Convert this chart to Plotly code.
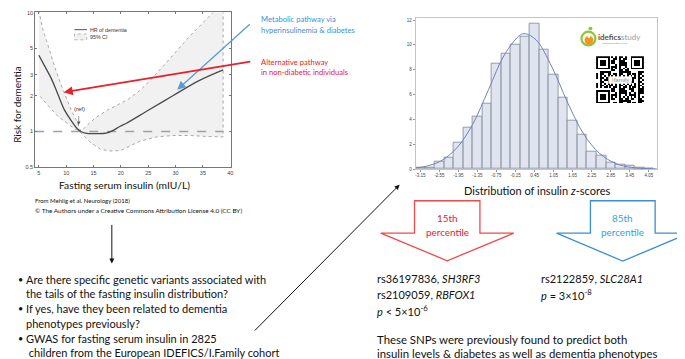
import base64
import plotly.graph_objects as go

# ---------------- data ----------------
# Left panel: hazard ratio of dementia vs fasting serum insulin
hr_x = [5, 6, 7.27, 8.5, 9.68, 11, 12.08, 12.7, 13.5, 15.1, 17.5, 19.9, 21.1, 24.7, 29.5, 34.3, 38.7]
hr_y = [4.38, 3.6, 2.8, 2.05, 1.52, 1.22, 1.05, 1.0, 0.97, 0.96, 0.975, 1.107, 1.18, 1.48, 2.0, 2.68, 3.3]

ci_upper_x = [5, 5.7, 6.4, 7.3, 8.2, 9.1, 10.0, 10.9, 11.8, 12.7, 14.0, 15.5, 17.6, 19.5, 21.2,
              23.6, 25.4, 27.9, 30.3, 32.7, 35.1, 36.9, 38.7]
ci_upper_y = [10.5, 7.31, 5.84, 4.24, 3.18, 2.46, 1.91, 1.52, 1.26, 1.0, 1.15, 1.32, 1.52, 1.68, 1.85,
              2.24, 2.71, 3.62, 4.83, 6.43, 8.3, 10.1, 13.0]
ci_lower_x = [5, 6.7, 8.5, 10.9, 12.7, 14.5, 16.3, 18.1, 19.9, 23.5, 26.5, 29.5, 32.5, 35.5, 38.7]
ci_lower_y = [2.03, 1.65, 1.34, 1.107, 0.975, 0.805, 0.708, 0.686, 0.69, 0.83, 0.9, 0.926, 0.926, 0.91, 0.9]

ref_x = [4.33, 38.7]
ref_y = [1, 1]

left_xticks = [5, 10, 15, 20, 25, 30, 35, 40]
left_yticks = [0.5, 1, 2, 3, 5, 10]
left_yticktext = ["0.5", "1", "2", "3", "5", "10"]

# Right panel: distribution of insulin z-scores (percent per bin)
bin_centers = [-3.15, -2.85, -2.55, -2.25, -1.95, -1.65, -1.35, -1.05, -0.75, -0.45, -0.15, 0.15,
               0.45, 0.75, 1.05, 1.35, 1.65, 1.95, 2.25, 2.55, 2.85, 3.15, 3.45, 3.75, 4.05]
bin_pct = [0.1, 0.15, 0.58, 0.9, 2.1, 3.36, 4.23, 5.26, 8.47, 9.31, 10.0, 10.69,
           11.7, 9.63, 7.57, 5.74, 3.92, 2.8, 1.38, 1.06, 0.53, 0.37, 0.3, 0.1, 0.06]
curve_x = [-3.3, -3.0, -2.5, -2.0, -1.5, -1.0, -0.5, 0.0, 0.16, 0.5, 1.0, 1.5, 2.0, 2.5, 3.0, 3.5, 4.0, 4.3]
curve_y = [0.09, 0.2, 0.65, 1.7, 3.6, 6.4, 9.2, 10.8, 10.9, 10.4, 8.2, 5.3, 2.8, 1.25, 0.45, 0.13, 0.03, 0.01]
hist_xtick_vals = [-3.15, -2.55, -1.95, -1.35, -0.75, -0.15, 0.45, 1.05, 1.65, 2.25, 2.85, 3.45, 4.05]
hist_xtick_text = ["-3.15", "-2.55", "-1.95", "-1.35", "-0.75", "-0.15", "0.45", "1.05", "1.65",
                   "2.25", "2.85", "3.45", "4.05"]
hist_yticks = [0, 2, 4, 6, 8, 10, 12]

# ---------------- layout helpers ----------------
W, H = 685, 359
FONT = "Lato"


def px(x):
    return x / W


def py(y):
    return 1 - y / H


def path(points):
    return "M " + " L ".join(f"{px(x):.5f},{py(y):.5f}" for x, y in points) + " Z"


fig = go.Figure()

band_x = ci_upper_x + ci_lower_x[::-1]
band_y = ci_upper_y + ci_lower_y[::-1]
fig.add_trace(go.Scatter(x=band_x, y=band_y, mode="lines", fill="toself",
                         fillcolor="#f1f1f1", line=dict(color="#a8a8a8", width=1, dash="dot"),
                         xaxis="x", yaxis="y", hoverinfo="skip", showlegend=False))
fig.add_trace(go.Scatter(x=ref_x, y=ref_y, mode="lines",
                         line=dict(color="#a0a0a0", width=1.6, dash="dash"),
                         xaxis="x", yaxis="y", showlegend=False))
fig.add_trace(go.Scatter(x=hr_x, y=hr_y, mode="lines", line=dict(color="#4a4a4a", width=1.3, shape="spline"),
                         xaxis="x", yaxis="y", showlegend=False))

fig.add_trace(go.Bar(x=bin_centers, y=bin_pct, width=0.3,
                     marker=dict(color="#dfe4ee", line=dict(color="#7d8595", width=0.8)),
                     xaxis="x2", yaxis="y2", showlegend=False))
fig.add_trace(go.Scatter(x=curve_x, y=curve_y, mode="lines",
                         line=dict(color="#7083b8", width=1, shape="spline"),
                         xaxis="x2", yaxis="y2", showlegend=False))

axis_font = dict(family="Liberation Sans", size=5.5, color="#444")
hist_font = dict(family="Liberation Sans", size=4.5, color="#444")
fig.update_layout(
    width=W, height=H, autosize=False,
    margin=dict(l=0, r=0, t=0, b=0, pad=0),
    paper_bgcolor="white", plot_bgcolor="white",
    font=dict(family=FONT),
    bargap=0,
    xaxis=dict(domain=[px(27.3), px(223.5)], range=[4.33, 40.05], tickvals=left_xticks,
               showgrid=False, zeroline=False, showline=True, linecolor="#777", linewidth=0.8,
               mirror="ticks", ticks="inside", ticklen=2, tickcolor="#777",
               tickfont=axis_font, anchor="y", ticklabeloverflow="allow"),
    yaxis=dict(domain=[py(159), py(1.5)], type="log", range=[-0.3015, 1.002], tickvals=left_yticks,
               ticktext=left_yticktext,
               showgrid=False, zeroline=False, showline=True, linecolor="#777", linewidth=0.8,
               mirror="ticks", ticks="inside", ticklen=2, tickcolor="#777",
               tickfont=axis_font, anchor="x", ticklabeloverflow="allow"),
    xaxis2=dict(domain=[px(409.3), px(651.7)], range=[-3.3, 4.3], tickvals=hist_xtick_vals,
                ticktext=hist_xtick_text, showgrid=False, zeroline=False, showline=True,
                linecolor="#c4c4c4", linewidth=0.8, mirror=True, ticks="outside", ticklen=2,
                tickcolor="#999", tickfont=hist_font, anchor="y2", ticklabeloverflow="allow"),
    yaxis2=dict(domain=[py(160.7), py(6.7)], range=[0, 12.2], tickvals=hist_yticks,
                showgrid=False, zeroline=False, showline=True, linecolor="#c4c4c4", linewidth=0.8,
                mirror=True, ticks="outside", ticklen=2, tickcolor="#999",
                tickfont=hist_font, anchor="x2", ticklabeloverflow="allow"),
)

ann = []
shapes = []


def text(x, y, s, size, color="#111", anchor="left", angle=0, family=FONT):
    ann.append(dict(x=px(x), y=py(y), xref="paper", yref="paper", text=s, showarrow=False,
                    xanchor=anchor, yanchor="middle", textangle=angle,
                    font=dict(family=family, size=size, color=color)))


def arrow(x0, y0, x1, y1, color, width, head=2, size=1.0):
    ann.append(dict(x=px(x1), y=py(y1), xref="paper", yref="paper", ax=x0 - x1, ay=y0 - y1,
                    text="", showarrow=True, arrowhead=head,
                    arrowsize=size, arrowwidth=width, arrowcolor=color))


# Left panel texts
text(9.5, 95, "Risk for dementia", 10, "#111", anchor="center", angle=-90)
text(117, 177.3, "Fasting serum insulin (mIU/L)", 10.3, "#111", anchor="center")
text(25, 192.7, "From Mehlig et al. Neurology (2018)", 6, "#111")
text(25, 203.3, "© The Authors under a Creative Commons Attribution License 4.0 (CC BY)", 6.4, "#111")
text(71.7, 100, "(ref)", 6, "#333", anchor="center", family="Liberation Sans")
arrow(71, 105.5, 71, 116, "#555", 0.6, head=2, size=1.2)

# legend inside left panel
shapes.append(dict(type="line", xref="paper", yref="paper", x0=px(66.7), x1=px(79.3), y0=py(19), y1=py(19),
                   line=dict(color="#555", width=1)))
shapes.append(dict(type="rect", xref="paper", yref="paper", x0=px(66.7), x1=px(79), y0=py(29.3), y1=py(23.3),
                   fillcolor="#f1f1f1", line=dict(color="#999", width=0.7, dash="dot")))
text(80.7, 19, "HR of dementia", 5.3, "#333", family="Liberation Sans")
text(80.7, 26.3, "95% CI", 5.3, "#333", family="Liberation Sans")

# pathway arrows and labels
arrow(244, 13.3, 170, 80, "#5b9bd5", 1.3, head=2, size=1.3)
arrow(244, 51.7, 56, 82.7, "#e8202a", 1.8, head=2, size=1.0)
text(252, 8.3, "Metabolic pathway via", 7.6, "#3b8fd4")
text(252, 19.3, "hyperinsulinemia &amp; diabetes", 7.6, "#3b8fd4")
text(252, 51.8, "Alternative pathway", 7.6, "#e8202a")
text(252, 62.3, "in non-diabetic individuals", 7.6, "#e8202a")

# down arrow and bullet list
arrow(104.3, 216.7, 104.3, 256.7, "#111", 1.0, head=2, size=1.0)
bullets = [
    (272.7, True, "Are there specific genetic variants associated with"),
    (287.7, False, "the tails of the fasting insulin distribution?"),
    (302.2, True, "If yes, have they been related to dementia"),
    (317.7, False, "phenotypes previously?"),
    (332.7, True, "GWAS for fasting serum insulin in 2825"),
    (347.8, False, " children from the European IDEFICS/I.Family cohort"),
]
for y, b, s in bullets:
    if b:
        text(8.5, y, "•", 9, "#111")
    text(15.7, y, s, 11, "#111")

# diagonal arrow to histogram
arrow(247, 324, 393.3, 176.7, "#111", 1.0, head=2, size=1.0)

# histogram caption
text(531, 182.7, "Distribution of insulin <i>z</i>-scores", 11, "#111", anchor="center")

# block arrows
shapes.append(dict(type="path", xref="paper", yref="paper",
                   path=path([(408.3, 193), (474, 193), (474, 226), (508, 226), (441.2, 254),
                              (374.4, 226), (408.3, 226)]),
                   fillcolor="white", line=dict(color="#ec4a4d", width=1.3)))
shapes.append(dict(type="path", xref="paper", yref="paper",
                   path=path([(585, 193), (650, 193), (650, 226), (684, 226), (617.5, 254.3),
                              (551, 226), (585, 226)]),
                   fillcolor="white", line=dict(color="#3b8fd0", width=1.3)))
text(441.2, 210.7, "15th", 9.9, "#e8202a", anchor="center")
text(441.2, 224.3, "percentile", 9.9, "#e8202a", anchor="center")
text(617.5, 210.7, "85th", 9.9, "#2aa6e0", anchor="center")
text(617.5, 224.3, "percentile", 9.9, "#2aa6e0", anchor="center")

# SNP results
text(368.3, 271.7, "rs36197836, <i>SH3RF3</i>", 11, "#111")
text(368.3, 288.3, "rs2109059, <i>RBFOX1</i>", 11, "#111")
text(368.3, 305, "<i>p</i> &lt; 5×10<sup>-6</sup>", 11, "#111")
text(533.3, 271.7, "rs2122859, <i>SLC28A1</i>", 11, "#111")
text(533.3, 288.3, "<i>p</i> = 3×10<sup>-8</sup>", 11, "#111")
text(368.3, 334.5, "These SNPs were previously found to predict both", 11.4, "#111")
text(368.3, 348.0, "insulin levels &amp; diabetes as well as dementia phenotypes", 11.4, "#111")

# IDEFICS logo (approximation)
shapes.append(dict(type="circle", xref="paper", yref="paper", x0=px(576), x1=px(590), y0=py(35), y1=py(21),
                   fillcolor="white", line=dict(color="#8cc63f", width=2.2)))
shapes.append(dict(type="circle", xref="paper", yref="paper", x0=px(579), x1=px(588), y0=py(34), y1=py(25),
                   fillcolor="#f7941d", line=dict(color="#f7941d", width=0)))
shapes.append(dict(type="circle", xref="paper", yref="paper", x0=px(582), x1=px(585), y0=py(27.5), y1=py(24.5),
                   fillcolor="white", line=dict(width=0)))
shapes.append(dict(type="circle", xref="paper", yref="paper", x0=px(583), x1=px(587), y0=py(19.5), y1=py(16),
                   fillcolor="#8cc63f", line=dict(width=0)))
text(590.5, 26.5, "<b>idefics</b><span style='color:#9a9a9a'>study</span>", 8, "#555")
text(595, 33, "Learning healthy living", 2.5, "#777", family="Liberation Sans")

# QR-like code image
n = 25
rects = []
finders = [(0, 0), (0, n - 7), (n - 7, 0)]


def in_finder(i, j):
    for fi, fj in finders:
        if fi - 1 <= i <= fi + 7 and fj - 1 <= j <= fj + 7:
            return (fi, fj)
    return None


for i in range(n):
    for j in range(n):
        f = in_finder(i, j)
        if f:
            di, dj = i - f[0], j - f[1]
            if 0 <= di <= 6 and 0 <= dj <= 6:
                on = min(di, dj, 6 - di, 6 - dj) != 1
            else:
                on = False
        else:
            on = ((i * 7 + j * 11 + i * j * 3 + (i // 3) * (j // 2)) % 5) in (0, 2, 3)
        if on:
            rects.append(f'<rect x="{j}" y="{i}" width="1.02" height="1.02"/>')
svg = (f'<svg xmlns="http://www.w3.org/2000/svg" width="{n * 4}" height="{n * 4}" viewBox="0 0 {n} {n}" '
       f'shape-rendering="crispEdges"><rect width="{n}" height="{n}" fill="white"/>'
       f'<g fill="black">{"".join(rects)}</g></svg>')
src = "data:image/svg+xml;base64," + base64.b64encode(svg.encode()).decode()
fig.add_layout_image(dict(source=src, xref="paper", yref="paper", x=px(590.7), y=py(46),
                          sizex=48 / W, sizey=48 / H, xanchor="left", yanchor="top",
                          sizing="stretch", layer="above"))
shapes.append(dict(type="rect", xref="paper", yref="paper", x0=px(603), x1=px(626.5), y0=py(74), y1=py(66.5),
                   fillcolor="white", line=dict(width=0)))
text(614.7, 70.2, "<span style='color:#f7941d'>I</span><span style='color:#7a8fb0'>family</span>", 6, "#777",
     anchor="center", family="Liberation Sans")

fig.update_layout(annotations=ann, shapes=shapes)
fig.write_html("out.html")
